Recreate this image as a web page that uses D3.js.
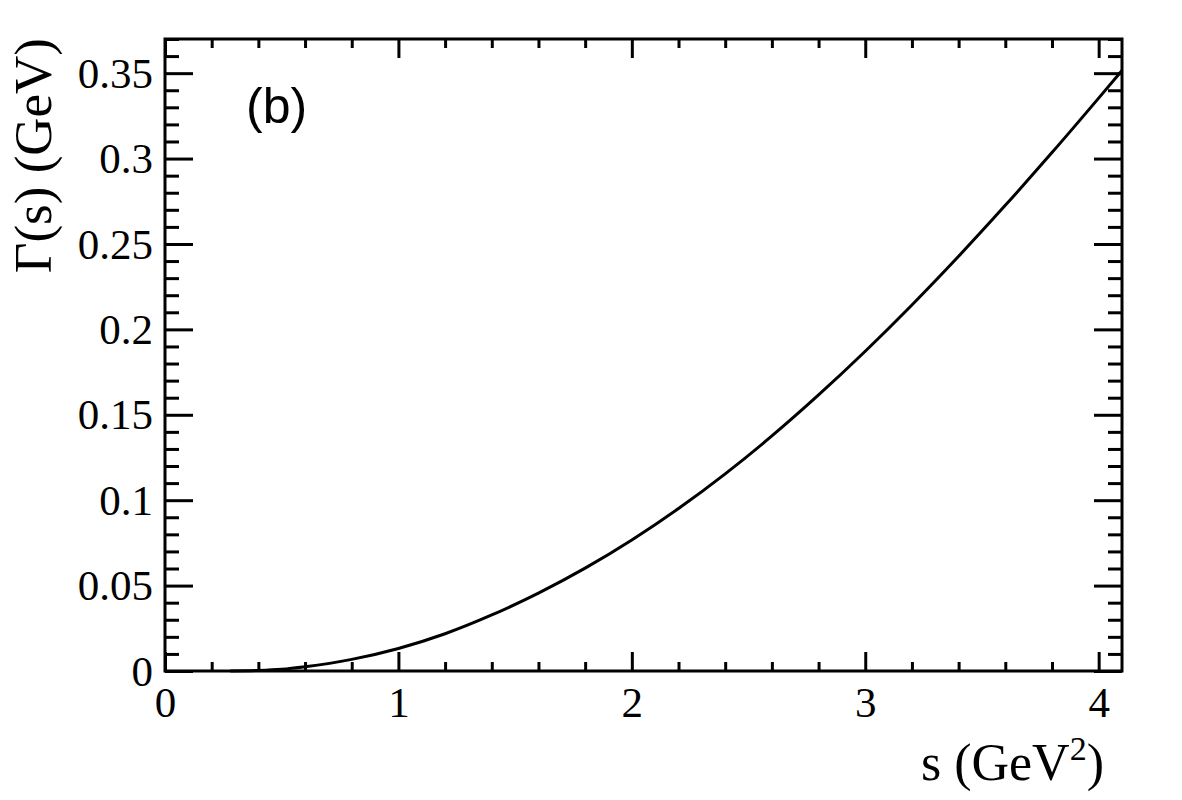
<!DOCTYPE html>
<html>
<head>
<meta charset="utf-8">
<script src="https://cdn.jsdelivr.net/npm/d3@7"></script>
<style>
  body { margin: 0; background: #fff; }
  svg { display: block; }
  .tick text { font-family: "Liberation Serif", "Times New Roman", serif; }
</style>
</head>
<body>
<div id="chart"></div>
<script>
// values
const sValues     = [0.28, 0.4, 0.5, 0.6, 0.8, 1.0, 1.2, 1.4, 1.6, 1.8, 2.0, 2.2, 2.4, 2.6, 2.8, 3.0, 3.2, 3.4, 3.6, 3.8, 4.0, 4.1];
const gammaValues = [0, 0.0003, 0.001, 0.0025, 0.0068, 0.0132, 0.0218, 0.0328, 0.0456, 0.0602, 0.0767, 0.0951, 0.1154, 0.1376, 0.1616, 0.1872, 0.2143, 0.2428, 0.2726, 0.3035, 0.3354, 0.3516];
const xMajorTicks = [0, 1, 2, 3, 4];
const yMajorTicks = [0, 0.05, 0.1, 0.15, 0.2, 0.25, 0.3, 0.35];
const xDomain = [0, 4.1];
const yDomain = [0, 0.37];

const W = 1182, H = 800;
const frame = {left: 165, right: 1122, top: 39, bottom: 671};

const svg = d3.select("#chart").append("svg")
  .attr("width", W).attr("height", H);

const x = d3.scaleLinear().domain(xDomain).range([frame.left, frame.right]);
const y = d3.scaleLinear().domain(yDomain).range([frame.bottom, frame.top]);

const xMinor = d3.range(0, 4.1001, 0.2).map(v => +v.toFixed(2)).filter(v => !xMajorTicks.includes(v));
const yMinor = d3.range(0, 0.3701, 0.01).map(v => +v.toFixed(2)).filter(v => !yMajorTicks.includes(v));

const fmt = d => String(+d.toFixed(2));

function styleAxis(g) {
  g.select(".domain").remove();
  g.selectAll(".tick line").attr("stroke", "#000").attr("stroke-width", 3);
  g.selectAll(".tick text").attr("fill", "#000").attr("font-size", 43);
}

// bottom
svg.append("g").attr("transform", `translate(0 ${frame.bottom})`)
  .call(d3.axisBottom(x).tickValues(xMajorTicks).tickFormat(fmt).tickSize(-19).tickPadding(0))
  .call(styleAxis)
  .call(g => g.selectAll(".tick text").attr("dy", null).attr("y", 46));
svg.append("g").attr("transform", `translate(0 ${frame.bottom})`)
  .call(d3.axisBottom(x).tickValues(xMinor).tickFormat("").tickSize(-9))
  .call(styleAxis);
// top
svg.append("g").attr("transform", `translate(0 ${frame.top})`)
  .call(d3.axisTop(x).tickValues(xMajorTicks).tickFormat("").tickSize(-19))
  .call(styleAxis);
svg.append("g").attr("transform", `translate(0 ${frame.top})`)
  .call(d3.axisTop(x).tickValues(xMinor).tickFormat("").tickSize(-9))
  .call(styleAxis);
// left
svg.append("g").attr("transform", `translate(${frame.left} 0)`)
  .call(d3.axisLeft(y).tickValues(yMajorTicks).tickFormat(fmt).tickSize(-28).tickPadding(0))
  .call(styleAxis)
  .call(g => g.selectAll(".tick text").attr("x", -12).attr("dy", "0.33em"));
svg.append("g").attr("transform", `translate(${frame.left} 0)`)
  .call(d3.axisLeft(y).tickValues(yMinor).tickFormat("").tickSize(-14))
  .call(styleAxis);
// right
svg.append("g").attr("transform", `translate(${frame.right} 0)`)
  .call(d3.axisRight(y).tickValues(yMajorTicks).tickFormat("").tickSize(-28))
  .call(styleAxis);
svg.append("g").attr("transform", `translate(${frame.right} 0)`)
  .call(d3.axisRight(y).tickValues(yMinor).tickFormat("").tickSize(-14))
  .call(styleAxis);

// curve
const pts = sValues.map((s, i) => [s, gammaValues[i]]);
svg.append("path")
  .datum(pts)
  .attr("fill", "none")
  .attr("stroke", "#000")
  .attr("stroke-width", 3)
  .attr("d", d3.line().x(d => x(d[0])).y(d => y(d[1])).curve(d3.curveMonotoneX));

// frame
svg.append("rect")
  .attr("x", frame.left).attr("y", frame.top)
  .attr("width", frame.right - frame.left).attr("height", frame.bottom - frame.top)
  .attr("fill", "none").attr("stroke", "#000").attr("stroke-width", 3);

// axis titles
const xt = svg.append("text")
  .attr("x", 1104).attr("y", 780)
  .attr("text-anchor", "end")
  .attr("font-family", "Liberation Serif, serif")
  .attr("font-size", 52);
xt.append("tspan").text("s (GeV");
xt.append("tspan").attr("font-size", 34).attr("dy", -20).text("2");
xt.append("tspan").attr("dy", 20).text(")");

svg.append("text")
  .attr("transform", "translate(51 38) rotate(-90)")
  .attr("text-anchor", "end")
  .attr("font-family", "Liberation Serif, serif")
  .attr("font-size", 53)
  .text("Γ(s) (GeV)");

svg.append("text")
  .attr("x", 246).attr("y", 123)
  .attr("font-family", "Liberation Sans, Arial, sans-serif")
  .attr("font-size", 50)
  .text("(b)");
</script>
</body>
</html>
